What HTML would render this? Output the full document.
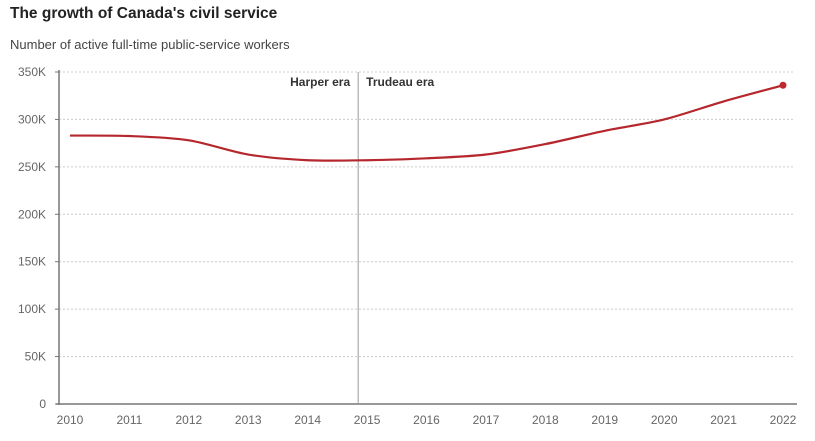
<!DOCTYPE html>
<html><head><meta charset="utf-8"><style>
body{margin:0;background:#fff;width:815px;height:436px;overflow:hidden;font-family:"Liberation Sans",sans-serif}
</style></head><body>
<svg id="c" width="815" height="436">
<text x="10" y="18" font-size="15.5" font-weight="bold" fill="#222">The growth of Canada's civil service</text>
<text x="10" y="49" font-size="13" fill="#444">Number of active full-time public-service workers</text>
</svg>
<script>
const years=[2010,2011,2012,2013,2014,2015,2016,2017,2018,2019,2020,2021,2022];
const values=[283,282.5,278,263,257,257,259,263,274,288,300,319,336];
const yTicks=[0,50,100,150,200,250,300,350];
const yTickLabels=['0','50K','100K','150K','200K','250K','300K','350K'];
const eraSplit=2014.85;
const svg=document.getElementById('c');const ns='http://www.w3.org/2000/svg';
const X=v=>70+(v-2010)*(783-70)/12, Y=v=>404-v*(404-72)/350;
function el(t,a,p){const e=document.createElementNS(ns,t);for(const k in a)e.setAttribute(k,a[k]);(p||svg).appendChild(e);return e;}
yTicks.forEach((t,i)=>{
 if(t>0){const g=el('line',{x1:59,x2:795,y1:Y(t),y2:Y(t),stroke:'#ccc','stroke-dasharray':'2,2'});
 
 }
 const tk=el('line',{x1:55,x2:59,y1:Y(t),y2:Y(t),stroke:'#777'});
 
 
 const tx=el('text',{x:46,y:Y(t)+4,'text-anchor':'end','font-size':12,fill:'#666'});tx.textContent=yTickLabels[i];
 
 
});
years.forEach(y=>{const tx=el('text',{x:X(y),y:424,'text-anchor':'middle','font-size':12,fill:'#666'});tx.textContent=y;
 
 });
const ya=el('line',{x1:59,x2:59,y1:70,y2:405,stroke:'#777','stroke-width':1.5});


const xa=el('line',{x1:56,x2:797,y1:404,y2:404,stroke:'#777','stroke-width':1.5});


const vl=el('line',{x1:X(eraSplit),x2:X(eraSplit),y1:72,y2:404,stroke:'#999'});


const h=el('text',{x:X(eraSplit)-8,y:86,'text-anchor':'end','font-size':12,'font-weight':'bold',fill:'#333'});h.textContent='Harper era';


const t=el('text',{x:X(eraSplit)+8,y:86,'font-size':12,'font-weight':'bold',fill:'#333'});t.textContent='Trudeau era';


const pts=years.map((y,i)=>[X(y),Y(values[i])]);
let d='M'+pts[0];
for(let i=0;i<pts.length-1;i++){const p0=pts[Math.max(0,i-1)],p1=pts[i],p2=pts[i+1],p3=pts[Math.min(pts.length-1,i+2)];const k=0.15;
 d+=' C'+(p1[0]+(p2[0]-p0[0])*k)+','+(p1[1]+(p2[1]-p0[1])*k)+' '+(p2[0]-(p3[0]-p1[0])*k)+','+(p2[1]-(p3[1]-p1[1])*k)+' '+p2[0]+','+p2[1];}
const ln=el('path',{d:d,fill:'none',stroke:'#b5272d','stroke-width':2.2});


const last=pts[pts.length-1];
const dot=el('circle',{cx:last[0],cy:last[1],r:3.5,fill:'#c0282e'});


</script>
</body></html>
